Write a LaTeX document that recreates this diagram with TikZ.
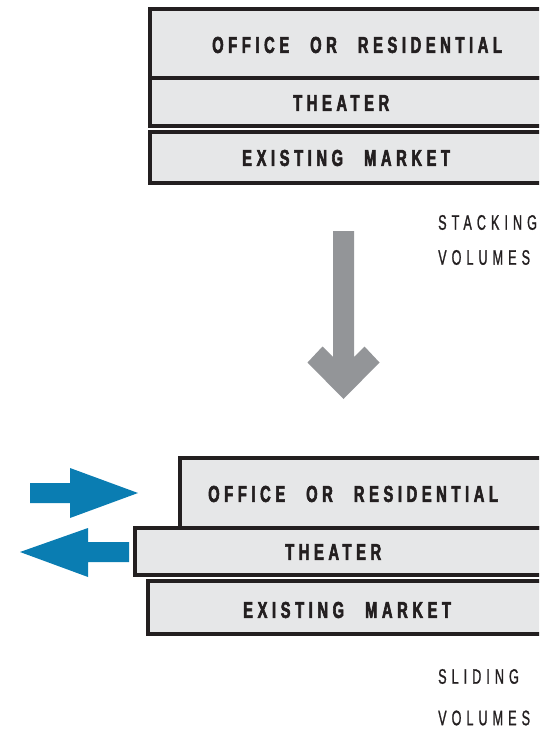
\documentclass[tikz,border=0pt]{standalone}
\usepackage{fontspec}
\usepackage{xcolor}
\usepackage{tikz}
\usetikzlibrary{positioning,calc}

\newfontfamily\slabfont[FakeStretch=0.64,LetterSpace=20,FakeBold=2.5]{Liberation Sans Bold}
\newfontfamily\notefont[FakeStretch=0.6,LetterSpace=24,FakeBold=1]{Liberation Sans}
\newcommand\wsp{\hspace{21pt}}

\definecolor{slabgray}{HTML}{E6E7E8}
\definecolor{slabline}{HTML}{231F20}
\definecolor{movegray}{HTML}{939598}
\definecolor{slideblue}{HTML}{0A7DB2}

\begin{document}
\begin{tikzpicture}[
  x=1pt, y=-1pt,
  slab/.style={draw=slabline, fill=slabgray, line width=4pt, inner sep=0pt, outer sep=0pt, anchor=north west},
  slabtext/.style={font=\slabfont\fontsize{23}{23}\selectfont, text=slabline, inner sep=0pt, anchor=west},
  note/.style={font=\notefont\fontsize{21}{21}\selectfont, text=slabline, inner sep=0pt, anchor=west}
]
\useasboundingbox (0,0) rectangle (539,730);
\clip (0,0) rectangle (539,730);

% stacked volumes
\node[slab, minimum width=420pt, minimum height=68.5pt] (s1) at (150,9.5) {};
\node[slab, minimum width=420pt, minimum height=48pt] (s2) at (150,78) {};
\node[slab, minimum width=420pt, minimum height=51pt] (s3) at (150,132) {};
\node[slabtext] (s1t) at (212,45) {OFFICE\wsp OR\wsp RESIDENTIAL};
\node[slabtext] (s2t) at (293,103) {THEATER};
\node[slabtext] (s3t) at (242,158) {EXISTING\wsp MARKET};
\node[note] (stk) at (438,222.5) {STACKING};
\node[note] (stkv) at (438,257.5) {VOLUMES};

% step down
\coordinate (mv) at (343.5,231);
\fill[movegray] (mv) ++(-10.5,0) -- ++(21,0) -- ++(0,126) -- ++(10.5,-10.5)
  -- ++(15,16) -- (343.5,399) -- ++(-36,-36.5) -- ++(15,-16) -- ++(10.5,10.5) -- cycle;

% slid volumes
\node[slab, minimum width=420pt, minimum height=70pt] (d1) at (180,458) {};
\node[slab, minimum width=420pt, minimum height=47pt] (d2) at (135,528) {};
\node[slab, minimum width=420pt, minimum height=53pt] (d3) at (148,581) {};
\node[slabtext] (d1t) at (208,494) {OFFICE\wsp OR\wsp RESIDENTIAL};
\node[slabtext] (d2t) at (285,552) {THEATER};
\node[slabtext] (d3t) at (243,610) {EXISTING\wsp MARKET};
\node[note] (sld) at (438,676.5) {SLIDING};
\node[note] (sldv) at (438,718) {VOLUMES};

% push arrows
\fill[slideblue] (30,483) -- (70,483) -- (70,468) -- (138,493) -- (70,518) -- (70,503) -- (30,503) -- cycle;
\fill[slideblue] (129,542) -- (88,542) -- (88,528) -- (20,552) -- (88,577) -- (88,562) -- (129,562) -- cycle;
\end{tikzpicture}
\end{document}
